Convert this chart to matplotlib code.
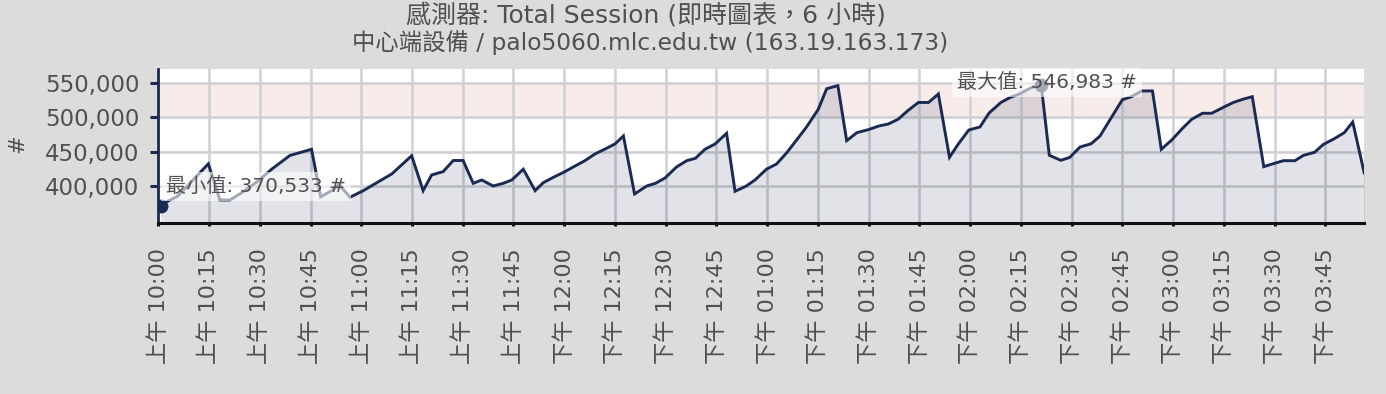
import matplotlib
matplotlib.use("Agg")
import matplotlib.pyplot as plt
from matplotlib.ticker import FixedLocator, FuncFormatter

plt.rcParams['font.family'] = ['DejaVu Sans', 'Noto Sans CJK TC']

# minutes after 10:00 and the Total Session count at each sample
minutes = [0.7, 2.5, 5.7, 14.8, 18.2, 21.2, 25.0, 29.5, 33.6, 38.9,
           45.3, 48.0, 51.6, 53.4, 56.7, 60.6, 64.6, 69.0, 74.9, 78.3,
           80.8, 84.2, 87.2, 90.1, 93.1, 95.6, 99.0, 102.0, 104.5, 107.9,
           111.4, 113.8, 116.8, 120.2, 123.2, 126.1, 129.1, 132.1, 135.0, 137.5,
           140.8, 144.4, 147.0, 149.8, 153.2, 156.2, 158.8, 161.6, 164.6, 168.0,
           170.5, 173.7, 176.4, 179.8, 182.8, 185.8, 188.7, 191.7, 195.1, 197.6,
           200.9, 203.5, 206.5, 209.9, 213.0, 215.8, 218.7, 221.7, 224.7, 227.7,
           230.6, 233.9, 236.5, 239.6, 242.9, 245.6, 249.1, 251.8, 254.7, 258.0,
           261.0, 263.4, 266.8, 269.4, 272.5, 275.8, 278.4, 281.3, 285.0, 287.7,
           290.7, 293.9, 296.5, 299.6, 302.5, 305.5, 308.7, 311.4, 314.6, 317.8,
           320.7, 323.4, 326.8, 329.6, 332.6, 336.0, 338.5, 341.8, 344.4, 347.5,
           350.6, 353.1, 356.5]

sessions = [370533, 377200, 385000, 432200, 379700, 379700, 391300, 407300, 424700, 444300,
            453300, 384300, 394200, 402200, 383700, 393200, 404800, 417400, 443900, 393200,
            416000, 420800, 437000, 437000, 403900, 408700, 400000, 403900, 408700, 424300,
            393200, 404800, 412600, 420800, 429000, 436700, 446500, 453700, 461000, 472600,
            388400, 400000, 403900, 411600, 427600, 436700, 440200, 453300, 461000, 476500,
            392300, 399600, 408700, 424400, 432000, 448400, 466800, 486100, 511400, 541300,
            545700, 465800, 477400, 481800, 487100, 490000, 496900, 509900, 521300, 521300,
            533600, 441700, 461000, 481300, 485700, 506000, 521300, 528500, 533900, 542600,
            546983, 444600, 437300, 441400, 456600, 461400, 472600, 495900, 525300, 529700,
            538000, 538000, 453300, 466800, 482300, 496900, 505600, 505600, 513600, 521300,
            526100, 529700, 428000, 432400, 436700, 436700, 444400, 448900, 460300, 468300,
            477400, 492900, 418900]

tick_minutes = list(range(0, 360, 15))
tick_labels = ["上午 10:00", "上午 10:15", "上午 10:30", "上午 10:45",
               "上午 11:00", "上午 11:15", "上午 11:30", "上午 11:45",
               "下午 12:00", "下午 12:15", "下午 12:30", "下午 12:45",
               "下午 01:00", "下午 01:15", "下午 01:30", "下午 01:45",
               "下午 02:00", "下午 02:15", "下午 02:30", "下午 02:45",
               "下午 03:00", "下午 03:15", "下午 03:30", "下午 03:45"]
y_ticks = [400000, 450000, 500000, 550000]
warning_band = (500000, 550000)

title_lines = ["感測器: Total Session (即時圖表，6 小時)",
               "中心端設備 / palo5060.mlc.edu.tw (163.19.163.173)"]

NAVY = '#1b2a52'
TEXT = '#505050'
Y_MIN, Y_MAX = 346700, 569900

fig = plt.figure(figsize=(13.86, 3.94), dpi=100, facecolor='#dcdcdc')
ax = fig.add_axes([0.1142, 0.4348, 0.8701, 0.3901])
ax.set_facecolor('white')
ax.set_xlim(0, 356.5)
ax.set_ylim(Y_MIN, Y_MAX)

ax.axhspan(*warning_band, color='#f7ecea', lw=0, zorder=0)
ax.grid(True, color='#cfcfd4', lw=1.8, zorder=1)
ax.set_axisbelow(True)

ax.fill_between(minutes, sessions, Y_MIN, color=NAVY, alpha=0.13, lw=0, zorder=2)
ax.plot(minutes, sessions, color=NAVY, lw=2.1, solid_joinstyle='miter', zorder=3)

# extreme values
i_min = sessions.index(min(sessions))
i_max = sessions.index(max(sessions))
ax.plot(minutes[i_min], sessions[i_min], 'o', ms=9, color=NAVY, zorder=4)
ax.plot(minutes[i_max], sessions[i_max], 'o', ms=9, color=NAVY, zorder=4)

box = dict(boxstyle='square,pad=0.25', facecolor='white', alpha=0.6, edgecolor='none')
ax.annotate(f"最小值: {sessions[i_min]:,} #", xy=(minutes[i_min], sessions[i_min]),
            xytext=(5, 20), textcoords='offset pixels', ha='left', va='center',
            fontsize=14.5, color=TEXT, bbox=box, zorder=5, annotation_clip=False)
ax.annotate(f"最大值: {sessions[i_max]:,} #", xy=(minutes[i_max], sessions[i_max]),
            xytext=(-84, 2), textcoords='offset pixels', ha='left', va='center',
            fontsize=14.5, color=TEXT, bbox=box, zorder=5, annotation_clip=False)

# axes styling
for side in ('top', 'right'):
    ax.spines[side].set_visible(False)
ax.spines['left'].set_color(NAVY)
ax.spines['left'].set_linewidth(2.0)
ax.spines['bottom'].set_color('#111111')
ax.spines['bottom'].set_linewidth(2.2)

ax.yaxis.set_major_locator(FixedLocator(y_ticks))
ax.yaxis.set_major_formatter(FuncFormatter(lambda v, _: f"{int(v):,}"))
ax.tick_params(axis='y', length=5.5, width=2.2, color=NAVY, pad=8,
               labelsize=16.5, labelcolor=TEXT)

ax.set_xticks(tick_minutes)
ax.set_xticklabels(tick_labels, rotation=90, ha='center', va='top')
ax.tick_params(axis='x', length=2.5, width=2.2, color='#111111', pad=16,
               labelsize=16, labelcolor=TEXT)

fig.text(17.5 / 1386, 1 - 144 / 394, '#', rotation=90, ha='center', va='center',
         fontsize=16, color=TEXT)
fig.text(646 / 1386, 1 - 15 / 394, title_lines[0], ha='center', va='center',
         fontsize=18, color=TEXT)
fig.text(650 / 1386, 1 - 43 / 394, title_lines[1], ha='center', va='center',
         fontsize=16.8, color=TEXT)

fig.savefig('out.png', dpi=100, facecolor=fig.get_facecolor())
